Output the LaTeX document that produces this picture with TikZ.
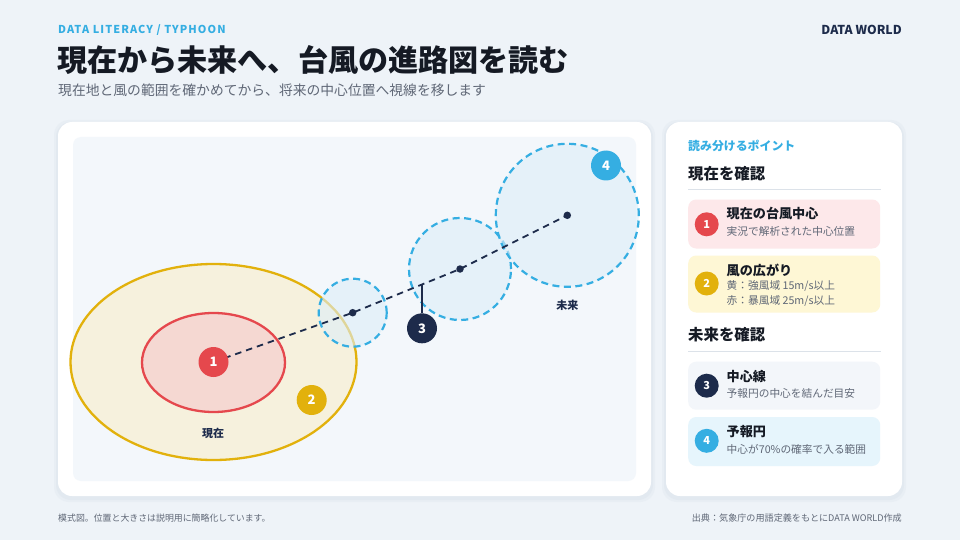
\documentclass[tikz,border=0pt]{standalone}
\usepackage{fontspec}
\setmainfont{Noto Sans CJK JP}
\newfontfamily\spaced[LetterSpace=10]{Noto Sans CJK JP}
\usetikzlibrary{calc,shapes.geometric}
\definecolor{bgc}{HTML}{EEF3F8}
\definecolor{innerc}{HTML}{F3F7FB}
\definecolor{accent}{HTML}{35AEE2}
\definecolor{navy}{HTML}{1D2B4B}
\definecolor{redc}{HTML}{E5484D}
\definecolor{yelc}{HTML}{E2B10C}
\definecolor{yelfill}{HTML}{F6F1DD}
\definecolor{redfill}{HTML}{F5D8D2}
\definecolor{cirfill}{HTML}{DDEEF8}
\definecolor{graytext}{HTML}{5F6776}
\definecolor{inktext}{HTML}{151A24}
\definecolor{sepc}{HTML}{DCE2E9}
\definecolor{card1c}{HTML}{FDE8EA}
\definecolor{card2c}{HTML}{FEF7D5}
\definecolor{card3c}{HTML}{F3F6FA}
\definecolor{card4c}{HTML}{E6F5FC}
\definecolor{shadowc}{HTML}{DFE6EE}
\tikzset{
  txt/.style={inner sep=0pt, anchor=west},
  num/.style={circle, inner sep=0pt, minimum size=30pt, text=white, font=\fontsize{13}{13}\selectfont\bfseries},
  cnum/.style={circle, inner sep=0pt, minimum size=24pt, text=white, font=\fontsize{11}{11}\selectfont\bfseries},
  card/.style={rounded corners=8pt, inner sep=0pt, anchor=north west, minimum width=192pt},
  ctitle/.style={txt, text=inktext, font=\fontsize{13.1}{13}\selectfont\bfseries},
  csub/.style={txt, text=graytext, font=\fontsize{10.7}{10.7}\selectfont},
  fcircle/.style={circle, inner sep=0pt, draw=accent, line width=2.2pt, dash pattern=on 7pt off 4.5pt, fill=cirfill, fill opacity=0.6, draw opacity=1},
  dot/.style={circle, inner sep=0pt, minimum size=7.5pt, fill=navy},
  cline/.style={draw=navy, line width=1.8pt, dash pattern=on 6.5pt off 5pt},
}
\begin{document}
\begin{tikzpicture}[x=1pt,y=-1pt]
\useasboundingbox (0,0) rectangle (960,540);
\fill[bgc] (0,0) rectangle (960,540);
% panels
\foreach \o/\op in {4/0.35,2/0.6}{
  \fill[shadowc, opacity=\op, rounded corners=15pt] (58-\o,122-\o+2) rectangle (651+\o,496+\o+2);
  \fill[shadowc, opacity=\op, rounded corners=15pt] (666-\o,122-\o+2) rectangle (902+\o,496+\o+2);
}
\fill[white, rounded corners=14pt] (58,122) rectangle (651,496);
\fill[white, rounded corners=14pt] (666,122) rectangle (902,496);
\fill[innerc, rounded corners=8pt] (73,137) rectangle (636,481);

% header
\node[txt, text=accent, font=\fontsize{10.9}{11}\selectfont\bfseries\spaced] (kicker) at (58,30) {DATA LITERACY / TYPHOON};
\node[inner sep=0pt, anchor=east, text=navy, font=\fontsize{12.3}{13}\selectfont\bfseries] (brand) at (902,30) {DATA WORLD};
\node[txt, text=inktext, font=\fontsize{30.1}{31}\selectfont\bfseries] (title) at (57,60) {現在から未来へ、台風の進路図を読む};
\node[txt, text=graytext, font=\fontsize{13.8}{14}\selectfont] (subtitle) at (58,90) {現在地と風の範囲を確かめてから、将来の中心位置へ視線を移します};

% diagram
\node[ellipse, inner sep=0pt, minimum width=286pt, minimum height=196pt, draw=yelc, line width=2.3pt, fill=yelfill] (gale) at (213.5,362) {};
\node[ellipse, inner sep=0pt, minimum width=143pt, minimum height=99pt, draw=redc, line width=2.3pt, fill=redfill] (storm) at (213.5,362.5) {};
\coordinate (p0) at (213.5,362);
\coordinate (p1) at (352.7,312.7);
\coordinate (p2) at (460,269);
\coordinate (p3) at (567.3,215.3);
\node[fcircle, minimum size=68pt] (fc1) at (p1) {};
\node[fcircle, minimum size=102pt] (fc2) at (p2) {};
\node[fcircle, minimum size=143pt] (fc3) at (p3) {};
\draw[cline] (p0) -- (p1) -- (p2) -- (p3);
\node[dot] (d1) at (p1) {};
\node[dot] (d2) at (p2) {};
\node[dot] (d3) at (p3) {};
\coordinate (lead) at ($(p1)!0.646!(p2)$);
\node[num, fill=navy] (n3) at (422,328.3) {3};
\draw[navy, line width=1.2pt] (n3.north) -- (n3.north |- lead);
\node[num, fill=redc] (n1) at (p0) {1};
\node[num, fill=yelc] (n2) at (311.7,400) {2};
\node[num, fill=accent] (n4) at (606,165.5) {4};
\node[inner sep=0pt, text=navy, font=\fontsize{11}{11}\selectfont\bfseries] (lnow) at (213,433) {現在};
\node[inner sep=0pt, text=navy, font=\fontsize{11}{11}\selectfont\bfseries] (lfut) at (567.3,305) {未来};

% right panel
\node[txt, text=accent, font=\fontsize{11.9}{12}\selectfont\bfseries] (ptitle) at (688,145.5) {読み分けるポイント};
\node[txt, text=inktext, font=\fontsize{15.4}{15}\selectfont\bfseries] (h1) at (688,173.3) {現在を確認};
\draw[sepc, line width=0.8pt] (688,189.3) -- (881,189.3);
\node[card, fill=card1c, minimum height=49pt] (card1) at (688,199.3) {};
\node[cnum, fill=redc] (c1) at (706.7,224.3) {1};
\node[ctitle] (c1t) at (726.5,214) {現在の台風中心};
\node[csub] (c1s) at (726.5,231.7) {実況で解析された中心位置};

\node[card, fill=card2c, minimum height=57pt] (card2) at (688,255.3) {};
\node[cnum, fill=yelc] (c2) at (706.7,283.5) {2};
\node[ctitle] (c2t) at (726.5,270.5) {風の広がり};
\node[csub] (c2s) at (726.5,286.3) {黄：強風域 15m/s以上};
\node[csub] (c2u) at (726.5,301) {赤：暴風域 25m/s以上};

\node[txt, text=inktext, font=\fontsize{15.4}{15}\selectfont\bfseries] (h2) at (688,335) {未来を確認};
\draw[sepc, line width=0.8pt] (688,351.3) -- (881,351.3);
\node[card, fill=card3c, minimum height=48pt] (card3) at (688,361.5) {};
\node[cnum, fill=navy] (c3) at (706.7,385.7) {3};
\node[ctitle] (c3t) at (726.5,376.5) {中心線};
\node[csub] (c3s) at (726.5,393.3) {予報円の中心を結んだ目安};

\node[card, fill=card4c, minimum height=49pt] (card4) at (688,416.8) {};
\node[cnum, fill=accent] (c4) at (706.7,440.8) {4};
\node[ctitle] (c4t) at (726.5,431.7) {予報円};
\node[csub] (c4s) at (726.5,449) {中心が70\%の確率で入る範囲};

% footer
\node[txt, text=graytext, font=\fontsize{8.9}{9}\selectfont] (fl) at (58,518) {模式図。位置と大きさは説明用に簡略化しています。};
\node[inner sep=0pt, anchor=east, text=graytext, font=\fontsize{9.1}{9}\selectfont] (fr) at (902,518) {出典：気象庁の用語定義をもとにDATA WORLD作成};
\end{tikzpicture}
\end{document}
